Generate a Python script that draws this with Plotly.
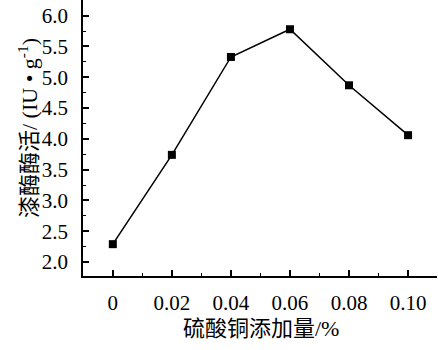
import plotly.graph_objects as go

x_vals = [0, 0.02, 0.04, 0.06, 0.08, 0.10]
y_vals = [2.29, 3.74, 5.33, 5.78, 4.87, 4.06]
x_tick_vals = [0, 0.02, 0.04, 0.06, 0.08, 0.10]
x_tick_text = ["0", "0.02", "0.04", "0.06", "0.08", "0.10"]
y_tick_vals = [2.0, 2.5, 3.0, 3.5, 4.0, 4.5, 5.0, 5.5, 6.0]
y_tick_text = ["2.0", "2.5", "3.0", "3.5", "4.0", "4.5", "5.0", "5.5", "6.0"]
x_title = "硫酸铜添加量/%"
y_title = "漆酶酶活/ (IU • g<sup>-1</sup>)"

font_fam = "Liberation Serif, Noto Sans CJK SC, serif"

fig = go.Figure()
fig.add_trace(go.Scatter(
    x=x_vals, y=y_vals, mode="lines+markers",
    line=dict(color="black", width=1.5),
    marker=dict(symbol="square", size=8, color="black"),
    showlegend=False,
))

fig.update_layout(
    width=438, height=350,
    margin=dict(l=83, r=1, t=0, b=74),
    paper_bgcolor="white", plot_bgcolor="white",
    font=dict(family=font_fam, size=21, color="black"),
    xaxis=dict(
        range=[-0.0101, 0.1098],
        tickvals=x_tick_vals, ticktext=x_tick_text,
        ticks="inside", ticklen=6, tickwidth=1.5, tickcolor="black",
        minor=dict(ticks="inside", ticklen=3, tickwidth=1, tickcolor="black", dtick=0.01),
        showline=True, linecolor="black", linewidth=1.5,
        showgrid=False, zeroline=False,
        ticklabelstandoff=7,
    ),
    yaxis=dict(
        range=[1.773, 6.255],
        tickvals=y_tick_vals, ticktext=y_tick_text,
        ticks="inside", ticklen=6, tickwidth=1.5, tickcolor="black",
        minor=dict(ticks="inside", ticklen=3, tickwidth=1, tickcolor="black", dtick=0.25),
        showline=True, linecolor="black", linewidth=1.5,
        showgrid=False, zeroline=False,
        ticklabelstandoff=9,
    ),
    annotations=[
        dict(text=x_title, xref="paper", yref="paper", x=(261 - 83) / 354, y=-(328 - 276) / 276,
             xanchor="center", yanchor="middle", showarrow=False,
             font=dict(family=font_fam, size=22, color="black")),
        dict(text=y_title, xref="paper", yref="paper", x=-(83 - 28) / 354, y=(276 - 128) / 276,
             xanchor="center", yanchor="middle", showarrow=False, textangle=-90,
             font=dict(family=font_fam, size=22, color="black")),
    ],
)

fig.write_html("out.html")
